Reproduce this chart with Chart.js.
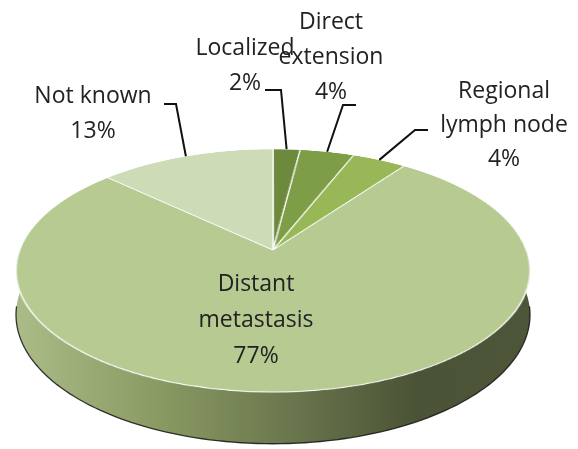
<!DOCTYPE html>
<html>
<head>
<meta charset="utf-8">
<script src="https://cdn.jsdelivr.net/npm/chart.js@4.4.0/dist/chart.umd.min.js"></script>
<style>
  html, body { margin: 0; padding: 0; background: #fff; }
  #pie { display: block; }
</style>
</head>
<body>
<canvas id="pie" width="578" height="449"></canvas>
<script>
// dati del grafico
var categories = [['Localized'], ['Direct', 'extension'], ['Regional', 'lymph node'], ['Distant', 'metastasis'], ['Not known']];
var values = [2, 4, 4, 77, 13];
var sliceColors = ['#6d8a3c', '#7e9d47', '#98b857', '#b6ca92', '#cddbb6'];

var view = { cx: 273, topY: 149, centerY: 250, bottomY: 392, halfWidth: 257, depth: 43 };

// posizione del testo e gomito della linea guida per ogni etichetta
var labelLayout = [
  { x: 245, y: 48, lineH: 35, leader: [[265, 90], [281, 90]] },
  { x: 331, y: 22, lineH: 35, leader: [[356, 105], [343, 105]] },
  { x: 504, y: 91, lineH: 34, leader: [[428, 130], [415, 130]] },
  { x: 256, y: 284, lineH: 36, leader: null },
  { x: 93, y: 96, lineH: 35, leader: [[164, 104], [176, 104]] }
];

// proiezione: y = (a*v + b) / (1 + c*v), x = cx + K*u / (1 + c*v)
function makeProjection() {
  var T = view.topY, B = view.bottomY, b = view.centerY;
  var c = (2 * b - T - B) / (B - T);
  var a = B + B * c - b;
  var K = view.halfWidth * Math.sqrt(1 - c * c);
  return {
    a: a, b: b, c: c, K: K,
    point: function(u, v, h) {
      var den = 1 + c * v;
      return { x: view.cx + K * u / den, y: (a * v + b + (h || 0)) / den };
    },
    toV: function(y) {
      return (y - b) / (a - y * c);
    }
  };
}

function drawSide(ctx, p) {
  var steps = 120;
  var grad = ctx.createLinearGradient(view.cx - view.halfWidth, 0, view.cx + view.halfWidth, 0);
  grad.addColorStop(0, '#abbc88');
  grad.addColorStop(0.3, '#879760');
  grad.addColorStop(0.55, '#68744c');
  grad.addColorStop(0.78, '#4a5335');
  grad.addColorStop(1, '#4d5638');

  ctx.beginPath();
  for (var i = 0; i <= steps; i++) {
    var f = Math.PI * i / steps;
    var q = p.point(Math.cos(f), Math.sin(f), 0);
    if (i === 0) ctx.moveTo(q.x, q.y); else ctx.lineTo(q.x, q.y);
  }
  for (var j = steps; j >= 0; j--) {
    var g = Math.PI * j / steps;
    var r = p.point(Math.cos(g), Math.sin(g), view.depth);
    ctx.lineTo(r.x, r.y);
  }
  ctx.closePath();
  ctx.fillStyle = grad;
  ctx.fill();

  // bordo scuro in basso
  ctx.beginPath();
  for (var k = 4; k <= steps - 4; k++) {
    var h = Math.PI * k / steps;
    var s = p.point(Math.cos(h), Math.sin(h), view.depth);
    if (k === 4) ctx.moveTo(s.x, s.y); else ctx.lineTo(s.x, s.y);
  }
  ctx.strokeStyle = 'rgba(20,20,20,0.85)';
  ctx.lineWidth = 1.3;
  ctx.stroke();
}

function drawLabels(chart, p) {
  var ctx = chart.ctx;
  var arcs = chart.getDatasetMeta(0).data;
  ctx.font = '23px "Open Sans"';
  ctx.textAlign = 'center';
  ctx.textBaseline = 'middle';
  ctx.fillStyle = '#222';
  for (var i = 0; i < arcs.length; i++) {
    var L = labelLayout[i];
    var lines = categories[i].concat([values[i] + '%']);
    for (var n = 0; n < lines.length; n++) {
      ctx.fillText(lines[n], L.x, L.y + n * L.lineH);
    }
    if (L.leader) {
      var mid = (arcs[i].startAngle + arcs[i].endAngle) / 2;
      var end = p.point(Math.cos(mid), Math.sin(mid), 0);
      ctx.beginPath();
      ctx.moveTo(L.leader[0][0], L.leader[0][1]);
      ctx.lineTo(L.leader[1][0], L.leader[1][1]);
      ctx.lineTo(end.x, end.y);
      ctx.strokeStyle = '#111';
      ctx.lineWidth = 2;
      ctx.stroke();
    }
  }
}

// plugin: prende la torta piatta disegnata da Chart.js e la deforma in 3D
var pie3d = {
  id: 'pie3d',
  afterDatasetsDraw: function(chart) {
    var ctx = chart.ctx;
    var arc = chart.getDatasetMeta(0).data[0];
    var ox = arc.x, oy = arc.y, r0 = arc.outerRadius, r = r0 + 2;
    var W = chart.canvas.width, H = chart.canvas.height;
    var flat = document.createElement('canvas');
    flat.width = W;
    flat.height = H;
    flat.getContext('2d').drawImage(chart.canvas, 0, 0);

    var p = makeProjection();
    ctx.save();
    ctx.setTransform(1, 0, 0, 1, 0, 0);
    ctx.clearRect(0, 0, W, H);
    drawSide(ctx, p);

    for (var y = Math.floor(view.topY) - 2; y <= Math.ceil(view.bottomY) + 2; y++) {
      var vA = p.toV(y), vB = p.toV(y + 1);
      if (vB < -1.02 || vA > 1.02) continue;
      var den = 1 + p.c * (vA + vB) / 2;
      var s = p.K / (r0 * den);
      ctx.drawImage(flat, ox - r, oy + vA * r0, 2 * r, (vB - vA) * r0,
        view.cx - s * r, y, 2 * r * s, 1);
    }
    drawLabels(chart, p);
    ctx.restore();
  }
};

var ctx = document.getElementById('pie');
var myChart = new Chart(ctx, {
  type: 'pie',
  data: {
    labels: categories,
    datasets: [{
      data: values,
      backgroundColor: sliceColors,
      borderColor: '#ffffff',
      borderWidth: 1.2
    }]
  },
  options: {
    responsive: false,
    animation: false,
    layout: { padding: 4 },
    plugins: {
      legend: { display: false },
      tooltip: { enabled: false }
    }
  },
  plugins: [pie3d]
});
</script>
</body>
</html>
